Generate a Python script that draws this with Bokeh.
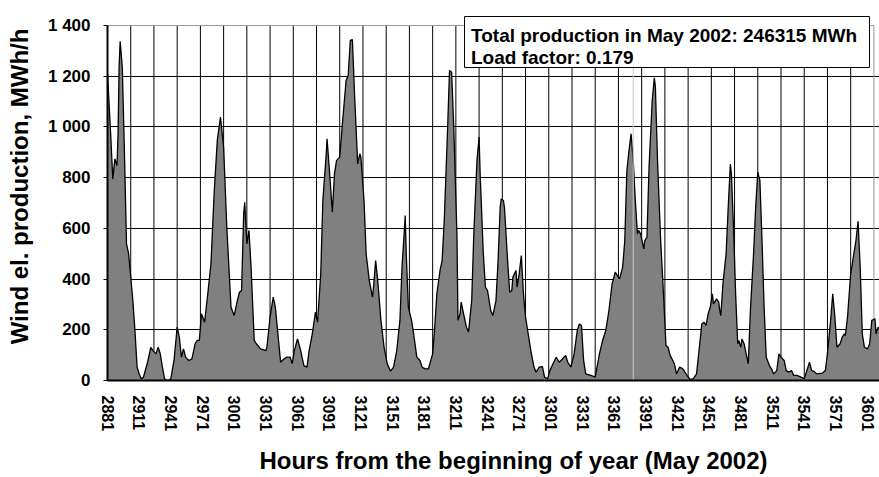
from bokeh.plotting import figure
from bokeh.models import FixedTicker, Range1d, Label
from bokeh.embed import file_html
from bokeh.resources import INLINE

# Hour of year (May 2002) and wind electricity production, MWh/h
hours = [
    2881, 2884, 2886, 2888, 2890, 2891, 2892, 2893, 2895, 2897, 2899, 2901, 2903, 2905, 2907, 2909, 2911, 2913, 2915, 2919,
    2922, 2924, 2927, 2929, 2931, 2933, 2935, 2938, 2941, 2944, 2947, 2949, 2951, 2953, 2955, 2958, 2961, 2964, 2966, 2968,
    2970, 2973, 2976, 2979, 2982, 2985, 2988, 2991, 2994, 2998, 3001, 3004, 3006, 3008, 3010, 3011, 3013, 3015, 3017, 3020,
    3022, 3026, 3031, 3032, 3035, 3038, 3040, 3043, 3045, 3048, 3051, 3054, 3056, 3058, 3061, 3064, 3067, 3070, 3072, 3075,
    3078, 3080, 3083, 3085, 3088, 3089, 3091, 3094, 3096, 3098, 3101, 3103, 3107, 3109, 3111, 3113, 3115, 3118, 3120, 3121,
    3124, 3126, 3129, 3132, 3133, 3135, 3137, 3140, 3143, 3146, 3149, 3152, 3155, 3158, 3160, 3162, 3163, 3164, 3166, 3169,
    3171, 3174, 3177, 3179, 3182, 3185, 3189, 3191, 3193, 3196, 3198, 3200, 3203, 3205, 3207, 3209, 3212, 3213, 3215, 3216,
    3219, 3221, 3223, 3226, 3228, 3231, 3233, 3234, 3237, 3239, 3241, 3244, 3246, 3249, 3251, 3253, 3254, 3256, 3257, 3260,
    3262, 3264, 3265, 3268, 3269, 3271, 3273, 3275, 3277, 3280, 3282, 3285, 3287, 3290, 3293, 3295, 3298, 3300, 3303, 3306,
    3309, 3312, 3315, 3317, 3320, 3323, 3326, 3328, 3330, 3332, 3334, 3339, 3343, 3347, 3350, 3353, 3356, 3359, 3362, 3364,
    3366, 3369, 3371, 3373, 3375, 3377, 3379, 3381, 3383, 3384, 3386, 3389, 3390, 3392, 3394, 3397, 3399, 3400, 3402, 3405,
    3408, 3410, 3412, 3414, 3418, 3420, 3423, 3426, 3430, 3433, 3436, 3439, 3441, 3444, 3446, 3448, 3450, 3452, 3454, 3455,
    3458, 3460, 3461, 3462, 3464, 3467, 3469, 3471, 3472, 3474, 3476, 3478, 3479, 3481, 3482, 3484, 3486, 3488, 3490, 3493,
    3495, 3497, 3499, 3501, 3503, 3505, 3508, 3510, 3512, 3515, 3517, 3519, 3522, 3524, 3526, 3529, 3531, 3534, 3538, 3541,
    3543, 3546, 3548, 3550, 3553, 3558, 3561, 3563, 3566, 3568, 3570, 3572, 3575, 3577, 3579, 3580, 3582, 3585, 3587, 3590,
    3592, 3594, 3596, 3598, 3601, 3603, 3605, 3608, 3609, 3611, 3613,
]
mwh = [
    1210, 973, 795, 874, 848, 973, 1236, 1338, 1236, 907, 539, 500, 408, 315, 197, 53, 26, 7, 13, 72,
    131, 118, 105, 131, 105, 53, 7, 0, 7, 79, 210, 171, 92, 125, 92, 79, 85, 145, 158, 158,
    263, 230, 342, 460, 736, 947, 1039, 920, 605, 289, 256, 315, 348, 355, 657, 703, 539, 592, 447, 158,
    145, 125, 118, 131, 250, 329, 289, 158, 72, 85, 92, 92, 66, 118, 164, 118, 59, 53, 118, 184,
    270, 230, 421, 710, 881, 953, 841, 664, 815, 868, 881, 986, 1183, 1203, 1341, 1344, 1131, 854, 894, 881,
    710, 500, 394, 329, 368, 473, 394, 237, 131, 66, 37, 53, 118, 237, 447, 578, 651, 500, 289, 237,
    184, 92, 79, 53, 46, 46, 105, 210, 342, 434, 473, 631, 973, 1223, 1216, 999, 578, 237, 263, 309,
    250, 210, 191, 315, 578, 868, 960, 815, 500, 368, 355, 276, 256, 315, 473, 684, 716, 710, 684, 473,
    348, 355, 408, 434, 368, 421, 493, 342, 250, 171, 118, 53, 33, 53, 55, 13, 7, 39, 66, 92,
    72, 85, 99, 72, 53, 105, 197, 223, 217, 79, 26, 20, 13, 105, 158, 197, 276, 381, 427, 414,
    401, 447, 552, 828, 907, 973, 868, 710, 578, 592, 578, 519, 552, 565, 841, 1104, 1194, 1157, 868, 552,
    315, 138, 131, 99, 66, 26, 53, 46, 20, 3, 7, 26, 105, 223, 230, 217, 263, 289, 342, 302,
    322, 309, 276, 256, 381, 500, 684, 854, 815, 605, 342, 145, 158, 131, 164, 145, 105, 66, 276, 500,
    684, 822, 789, 552, 289, 92, 59, 46, 26, 39, 105, 92, 79, 39, 33, 39, 20, 20, 13, 7,
    33, 72, 39, 37, 26, 29, 39, 105, 237, 342, 250, 131, 145, 171, 184, 178, 250, 421, 473, 552,
    628, 447, 184, 131, 125, 145, 237, 243, 184, 210, 200,
]

x_ticks = [2881, 2911, 2941, 2971, 3001, 3031, 3061, 3091, 3121, 3151, 3181, 3211, 3241,
           3271, 3301, 3331, 3361, 3391, 3421, 3451, 3481, 3511, 3541, 3571, 3601]
x_labels = [str(t) for t in x_ticks]
y_ticks = [0, 200, 400, 600, 800, 1000, 1200, 1400]
y_labels = ["0", "200", "400", "600", "800", "1 000", "1 200", "1 400"]

info_lines = ["Total production in May 2002: 246315 MWh", "Load factor: 0.179"]
x_title = "Hours from the beginning of year (May 2002)"
y_title = "Wind el. production, MWh/h"

FONT = "Liberation Sans"
NBSP = "\u00a0"

# ---- layout (pixels) ----
W, H = 879, 477
F_LEFT, F_TOP, F_BOTTOM = 107, 12, 97          # borders around the frame
FRAME_H = H - F_TOP - F_BOTTOM                  # 368 px
PX_PER_UNIT = 355 / 1400                        # 1400 MWh/h spans 355 px
Y_MAX = FRAME_H / PX_PER_UNIT
X0, X1 = 2881, 3612.3
PX_PER_HOUR = (W - F_LEFT) / (X1 - X0)
BASE_Y = F_TOP + FRAME_H                         # page y of value 0


def hx(px):  # page x -> hour
    return X0 + (px - F_LEFT) / PX_PER_HOUR


def vy(py):  # page y -> value
    return (BASE_Y - py) / PX_PER_UNIT


p = figure(width=W, height=H, output_backend="svg", toolbar_location=None,
           x_range=Range1d(X0, X1), y_range=Range1d(0, Y_MAX),
           min_border_left=F_LEFT, min_border_right=0,
           min_border_top=F_TOP, min_border_bottom=F_BOTTOM)
p.outline_line_color = None
p.background_fill_color = "white"
p.border_fill_color = "white"

# grids
grid_step = 22
grid_hours = list(range(X0 + grid_step, 3613, grid_step))
p.xgrid.visible = False
p.ygrid.ticker = FixedTicker(ticks=y_ticks[1:-1])
p.ygrid.grid_line_color = "black"
p.ygrid.grid_line_width = 1
p.segment(x0=grid_hours[:-1], y0=0, x1=grid_hours[:-1], y1=y_ticks[-1],
          line_color="black", line_width=1)
p.segment(x0=[grid_hours[-1]], y0=0, x1=[grid_hours[-1]], y1=y_ticks[-1],
          line_color="#9a9a9a", line_width=1)
p.segment(x0=[X0], y0=y_ticks[-1], x1=[grid_hours[-1]], y1=y_ticks[-1],
          line_color="#9a9a9a", line_width=1)

# area
p.varea(x=hours, y1=0, y2=mwh, fill_color="#808080", fill_alpha=1)
p.line(x=hours, y=mwh, line_color="black", line_width=1.3)
p.segment(x0=[3379], y0=0, x1=[3379], y1=y_ticks[-1], line_color="#c8c8c8", line_width=1)

# info box
p.quad(left=hx(464), right=hx(869), top=vy(16), bottom=vy(67),
       fill_color="white", line_color="black", line_width=1)
for i, txt in enumerate(info_lines):
    p.add_layout(Label(x=hx(470.5), y=vy(34.8 + 22 * i), x_units="data", y_units="data",
                       text=txt, text_font=FONT, text_font_style="bold",
                       text_font_size="19px", text_color="black",
                       text_align="left", text_baseline="alphabetic"))

# axes
for ax in (p.xaxis[0], p.yaxis[0]):
    ax.axis_line_color = "black"
    ax.axis_line_width = 2
    ax.major_label_text_font = FONT
    ax.major_label_text_font_style = "bold"
    ax.major_label_text_color = "black"
    ax.minor_tick_line_color = None
    ax.axis_label_text_font = FONT
    ax.axis_label_text_font_style = "bold"
    ax.axis_label_text_font_size = "24px"
    ax.axis_label_text_color = "black"

p.yaxis.bounds = (0, y_ticks[-1])
p.yaxis.ticker = FixedTicker(ticks=y_ticks)
p.yaxis.major_label_overrides = dict(zip(y_ticks, y_labels))
p.yaxis.major_label_text_font_size = "17px"
p.yaxis.major_tick_out = 4
p.yaxis.major_tick_in = 0
p.yaxis.major_tick_line_color = "black"
p.yaxis.major_label_standoff = 13
# leading no-break spaces shift the centred title towards the reference position
p.yaxis.axis_label = NBSP * 3 + y_title
p.yaxis.axis_label_standoff = 12

p.xaxis.ticker = FixedTicker(ticks=x_ticks)
p.xaxis.major_label_overrides = dict(zip(x_ticks, x_labels))
p.xaxis.major_label_text_font_size = "16px"
p.xaxis.major_label_orientation = "vertical"
p.xaxis.major_tick_out = 0
p.xaxis.major_tick_in = 0
p.xaxis.major_label_standoff = 15
p.xaxis.axis_label = NBSP * 6 + x_title
p.xaxis.axis_label_standoff = 13

open("out.html", "w").write(file_html(p, INLINE))
